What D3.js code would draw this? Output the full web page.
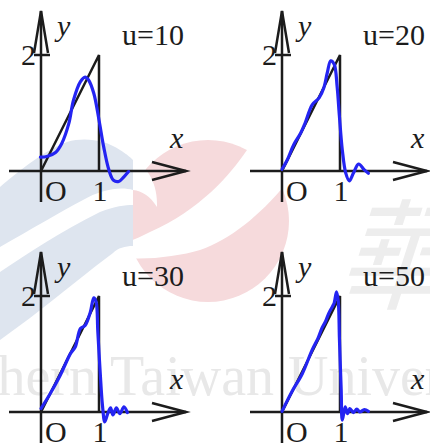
<!DOCTYPE html>
<html><head><meta charset="utf-8">
<script src="https://cdn.jsdelivr.net/npm/d3@7"></script>
<style>body{margin:0;background:#fff}svg{display:block}
.lab{font-family:"Liberation Serif","Times New Roman",serif;font-size:30px;fill:#1c1c1c}
.it{font-style:italic}</style>
</head><body>
<script>
// ---------- data ----------
const panelTitles = ["u=10", "u=20", "u=30", "u=50"];
const tickLabels = ["O", "1", "2"];
const axisNames = ["x", "y"];
const rampX = [0, 1, 1];
const rampY = [0, 2, 0];

const u10 = [[-0.01,0.24],[0.10,0.25],[0.25,0.32],[0.36,0.48],[0.48,0.82],[0.56,1.22],[0.68,1.54],[0.76,1.62],[0.82,1.57],[0.91,1.34],[1.00,0.88],[1.08,0.42],[1.17,0.02],[1.25,-0.16],[1.34,-0.18],[1.43,-0.10],[1.51,-0.01]];
const u20 = [[0.00,0.03],[0.09,0.19],[0.20,0.45],[0.32,0.65],[0.40,0.83],[0.52,1.14],[0.64,1.26],[0.72,1.43],[0.78,1.69],[0.84,1.90],[0.90,1.84],[0.95,1.46],[0.99,0.94],[1.04,0.36],[1.10,-0.04],[1.16,-0.17],[1.23,-0.04],[1.32,0.12],[1.42,0.02],[1.49,-0.04]];
const u30 = [[0.00,0.06],[0.16,0.32],[0.33,0.63],[0.51,1.01],[0.59,1.12],[0.68,1.44],[0.76,1.49],[0.85,1.72],[0.91,1.97],[0.95,1.90],[0.98,1.38],[1.02,0.69],[1.06,0.11],[1.10,-0.17],[1.15,-0.03],[1.20,0.07],[1.24,-0.05],[1.30,0.07],[1.36,-0.03],[1.43,0.09],[1.49,-0.01]];
const u50 = [[0.00,0.01],[0.17,0.35],[0.35,0.66],[0.52,1.07],[0.62,1.27],[0.69,1.45],[0.75,1.56],[0.81,1.71],[0.87,1.82],[0.90,1.88],[0.94,2.07],[0.97,1.91],[0.99,1.27],[1.02,0.40],[1.04,-0.14],[1.09,0.09],[1.13,-0.03],[1.17,0.06],[1.23,-0.01],[1.29,0.05],[1.34,0.00],[1.42,0.04],[1.49,0.01]];
const curves = [u10, u20, u30, u50];

// ---------- drawing ----------
const W = 430, H = 443;
const svg = d3.select("body").append("svg").attr("width", W).attr("height", H);

// watermark (faint background logo + text)
const wm = svg.append("g");
wm.append("clipPath").attr("id","rightHalf").append("rect").attr("x",133).attr("y",0).attr("width",300).attr("height",443);
wm.append("circle").attr("cx",208).attr("cy",221).attr("r",81).attr("fill","#f6dadc").attr("clip-path","url(#rightHalf)");
wm.append("path").attr("fill","#fff")
  .attr("d","M247,150 C230,175 200,210 150,232 C135,240 120,245 105,247 L125,258 C150,260 180,256 200,250 C230,240 260,215 285,185 L290,140 Z");
wm.append("path").attr("fill","#dee5ef")
  .attr("d","M0,187 C20,170 45,150 67,142 C85,137 105,140 120,150 C128,155 131,158 133,160 L133,190 C120,186 100,190 83,200 C60,212 30,230 0,247 Z");
wm.append("path").attr("fill","#fff")
  .attr("d","M133,160 C148,166 158,185 157,207 C150,196 142,191 133,190 Z");
wm.append("path").attr("fill","#dee5ef")
  .attr("d","M0,272 C30,252 60,232 100,212 C115,206 125,205 133,205 L133,246 C125,246 118,248 113,253 C90,270 60,295 30,318 L0,340 Z");
wm.append("text").attr("transform","translate(335,300) skewX(-18)").attr("font-family","Noto Sans CJK TC")
  .attr("font-size",120).attr("fill","#ededed").text("華");
wm.append("text").attr("x",97).attr("y",395).attr("text-anchor","end").attr("font-family","Liberation Serif")
  .attr("font-size",56).attr("fill","#e8e8e8").text("Southern");
wm.append("text").attr("x",110).attr("y",395).attr("font-family","Liberation Serif")
  .attr("font-size",56).attr("fill","#e8e8e8").text("Taiwan University");

const x = d3.scaleLinear().domain([0, 1]).range([0, 58]);
const y = d3.scaleLinear().domain([0, 2]).range([0, -116]);
const origins = [[41,171],[282,171],[41,412],[282,412]];
const ink = "#1c1c1c";

const line = d3.line().x(d => x(d[0])).y(d => y(d[1])).curve(d3.curveCatmullRom.alpha(0.5));

origins.forEach((o, i) => {
  const g = svg.append("g").attr("transform", `translate(${o[0]},${o[1]})`);
  const ax = g.append("g").attr("stroke", ink).attr("stroke-width", 2.5).attr("fill", "none");
  // x axis with open arrow
  ax.append("line").attr("x1", -32).attr("y1", 0).attr("x2", 145).attr("y2", 0);
  ax.append("path").attr("d", "M111,-9 L145,0 L111,9");
  // y axis with open arrow
  ax.append("line").attr("x1", 0).attr("y1", 31).attr("x2", 0).attr("y2", -160);
  ax.append("path").attr("d", "M-7,-118 L0,-160 L7,-118");
  ax.append("line").attr("x1", -7).attr("y1", y(2)).attr("x2", 9).attr("y2", y(2));
  // target function 2x on (0,1)
  ax.append("path").attr("d", d3.line().x((d,k)=>x(rampX[k])).y((d,k)=>y(rampY[k]))(rampX));

  // Fourier approximation
  g.append("path").attr("d", line(curves[i])).attr("fill","none")
    .attr("stroke", "#2424f2").attr("stroke-width", 3.2).attr("stroke-linejoin","round").attr("stroke-linecap","round");

  // labels
  g.append("text").attr("class","lab").attr("x", 4).attr("y", 30).text(tickLabels[0]);
  g.append("text").attr("class","lab").attr("x", x(1) + 1).attr("y", 30).attr("text-anchor","middle").text(tickLabels[1]);
  g.append("text").attr("class","lab").attr("x", -5).attr("y", y(2) + 10).attr("text-anchor","end").text(tickLabels[2]);
  g.append("text").attr("class","lab it").attr("x", 129).attr("y", -23).text(axisNames[0]);
  g.append("text").attr("class","lab it").attr("x", 16).attr("y", -135).text(axisNames[1]);
  g.append("text").attr("class","lab").attr("x", 81).attr("y", -126).text(panelTitles[i]);
});
</script>
</body></html>
